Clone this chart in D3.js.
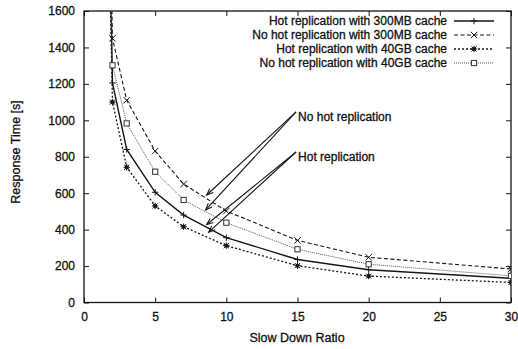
<!DOCTYPE html>
<html>
<head>
<meta charset="utf-8">
<script src="https://cdn.jsdelivr.net/npm/d3@7"></script>
<style>
  html, body { margin: 0; padding: 0; background: #fff; }
  svg { display: block; }
  text { font-family: "Liberation Sans", Arial, Helvetica, sans-serif; fill: #111; stroke: #111; stroke-width: 0.3px; }
</style>
</head>
<body>
<svg id="chart" width="518" height="349"></svg>
<script>
// Slow-down ratios (x) and response times in seconds for each configuration
const slowDown   = [1, 2, 3, 5, 7, 10, 15, 20, 30];
const hot300     = [5200, 1205, 840, 605, 480, 356, 236, 180, 133];
const noHot300   = [5600, 1450, 1110, 831, 650, 502, 341, 248, 184];
const hot40      = [4800, 1100, 742, 530, 416, 312, 202, 145, 110];
const noHot40    = [5400, 1302, 983, 718, 563, 438, 292, 210, 146];

const seriesNames = [
  "Hot replication with 300MB cache",
  "No hot replication with 300MB cache",
  "Hot replication with 40GB cache",
  "No hot replication with 40GB cache"
];

const xTicks = [0, 5, 10, 15, 20, 25, 30];
const yTicks = [0, 200, 400, 600, 800, 1000, 1200, 1400, 1600];

// Annotation arrows: label text, label anchor [x, y] and arrow tips
const noteLabels = ["No hot replication", "Hot replication"];
const noteStarts = [[14.9, 1046], [14.9, 826]];
const noteTips = [
  [[8.62, 590], [8.55, 508]],
  [[8.62, 428], [8.76, 386]]
];

const svg = d3.select("#chart");
const plotLeft = 84, plotRight = 511, plotTop = 11, plotBottom = 302.5;

const x = d3.scaleLinear().domain([0, 30]).range([plotLeft, plotRight]);
const y = d3.scaleLinear().domain([0, 1600]).range([plotBottom, plotTop]);

const ink = "#151515";
const textFont = '"Liberation Sans", Arial, Helvetica, sans-serif';

// Per-series styling: stroke, dash and marker kind
const styles = [
  { stroke: ink, width: 1.4, dash: null, marker: "plus" },
  { stroke: ink, width: 1.1, dash: "4,2.5", marker: "cross" },
  { stroke: ink, width: 1.3, dash: "2,2", marker: "star" },
  { stroke: "#555", width: 1.0, dash: "1,1", marker: "square" }
];
const values = [hot300, noHot300, hot40, noHot40];

svg.append("defs").append("clipPath").attr("id", "plotClip")
  .append("rect").attr("x", plotLeft).attr("y", plotTop)
  .attr("width", plotRight - plotLeft).attr("height", plotBottom - plotTop);

// Axes with inward ticks
const fontSize = "12px";
const axL = svg.append("g").attr("transform", `translate(${plotLeft},0)`)
  .call(d3.axisLeft(y).tickValues(yTicks).tickFormat(d3.format("d"))
    .tickSizeInner(-5).tickSizeOuter(0).tickPadding(9));
const axR = svg.append("g").attr("transform", `translate(${plotRight},0)`)
  .call(d3.axisRight(y).tickValues(yTicks).tickSizeInner(-5).tickSizeOuter(0).tickFormat(""));
const axB = svg.append("g").attr("transform", `translate(0,${plotBottom})`)
  .call(d3.axisBottom(x).tickValues(xTicks).tickFormat(d3.format("d"))
    .tickSizeInner(-5).tickSizeOuter(0).tickPadding(9.5));
const axT = svg.append("g").attr("transform", `translate(0,${plotTop})`)
  .call(d3.axisTop(x).tickValues(xTicks).tickSizeInner(-5).tickSizeOuter(0).tickFormat(""));

[axL, axR, axB, axT].forEach(g => {
  g.attr("font-family", null).attr("font-size", null);
  g.select(".domain").remove();
  g.selectAll("line").attr("stroke", ink).attr("stroke-width", 1);
  g.selectAll("text").style("font-size", fontSize).attr("fill", ink)
    .style("font-family", textFont);
});

// Plot frame
svg.append("rect").attr("x", plotLeft).attr("y", plotTop)
  .attr("width", plotRight - plotLeft).attr("height", plotBottom - plotTop)
  .attr("fill", "none").attr("stroke", ink).attr("stroke-width", 1.3);

// Axis titles
svg.append("text").attr("x", 297).attr("y", 342)
  .attr("text-anchor", "middle").style("font-size", "12.5px").text("Slow Down Ratio");
svg.append("text").attr("transform", "translate(16,152) rotate(-90)")
  .attr("text-anchor", "middle").attr("dominant-baseline", "central")
  .style("font-size", "12.5px").text("Response Time [s]");

function drawMarker(g, kind, cx, cy, st) {
  const s = 3.2;
  const m = g.append("g").attr("stroke", st.stroke).attr("stroke-width", 1).attr("fill", "none");
  if (kind === "plus" || kind === "star") {
    m.append("line").attr("x1", cx - s).attr("x2", cx + s).attr("y1", cy).attr("y2", cy);
    m.append("line").attr("x1", cx).attr("x2", cx).attr("y1", cy - s).attr("y2", cy + s);
  }
  if (kind === "cross" || kind === "star") {
    const d = kind === "star" ? s * 0.8 : s;
    m.append("line").attr("x1", cx - d).attr("x2", cx + d).attr("y1", cy - d).attr("y2", cy + d);
    m.append("line").attr("x1", cx - d).attr("x2", cx + d).attr("y1", cy + d).attr("y2", cy - d);
  }
  if (kind === "star") {
    m.append("rect").attr("x", cx - 1.8).attr("y", cy - 1.8).attr("width", 3.6).attr("height", 3.6)
      .attr("fill", st.stroke).attr("stroke", "none");
  }
  if (kind === "square") {
    m.append("rect").attr("x", cx - 2.6).attr("y", cy - 2.6).attr("width", 5.2).attr("height", 5.2)
      .attr("stroke", "#333").attr("fill", "#fff");
  }
}

// Series lines and markers
const plot = svg.append("g").attr("clip-path", "url(#plotClip)");
const line = d3.line().x((d, i) => x(slowDown[i])).y(d => y(d));
values.forEach((vals, k) => {
  const st = styles[k];
  plot.append("path").datum(vals).attr("d", line)
    .attr("fill", "none").attr("stroke", st.stroke).attr("stroke-width", st.width)
    .attr("stroke-dasharray", st.dash);
});
values.forEach((vals, k) => {
  const st = styles[k];
  vals.forEach((v, i) => {
    if (v <= 1600) drawMarker(plot, st.marker, x(slowDown[i]), y(v), st);
  });
});

// Legend
const legend = svg.append("g");
const legendY = [21, 35, 49, 63];
seriesNames.forEach((name, k) => {
  const st = styles[k];
  const ly = legendY[k];
  legend.append("text").attr("x", 447).attr("y", ly).attr("text-anchor", "end")
    .attr("dominant-baseline", "central").style("font-size", "12px").text(name);
  legend.append("line").attr("x1", 454).attr("x2", 494).attr("y1", ly).attr("y2", ly)
    .attr("stroke", st.stroke).attr("stroke-width", st.width).attr("stroke-dasharray", st.dash);
  drawMarker(legend, st.marker, 474, ly, st);
});

// Annotations with arrows
const notes = svg.append("g");
noteLabels.forEach((label, k) => {
  const [sx, sy] = noteStarts[k];
  const px = x(sx), py = y(sy);
  notes.append("text").attr("x", px + 2).attr("y", py + 5)
    .attr("dominant-baseline", "central").style("font-size", "12px").text(label);
  noteTips[k].forEach(([tx, ty]) => {
    const ex = x(tx), ey = y(ty);
    notes.append("line").attr("x1", px).attr("y1", py).attr("x2", ex).attr("y2", ey)
      .attr("stroke", ink).attr("stroke-width", 1.1);
    const ang = Math.atan2(py - ey, px - ex);
    const len = 7, spread = 0.38;
    const pts = [
      [ex + len * Math.cos(ang + spread), ey + len * Math.sin(ang + spread)],
      [ex, ey],
      [ex + len * Math.cos(ang - spread), ey + len * Math.sin(ang - spread)]
    ];
    notes.append("path").attr("d", d3.line()(pts))
      .attr("fill", "none").attr("stroke", ink).attr("stroke-width", 1.1);
  });
});
</script>
</body>
</html>
